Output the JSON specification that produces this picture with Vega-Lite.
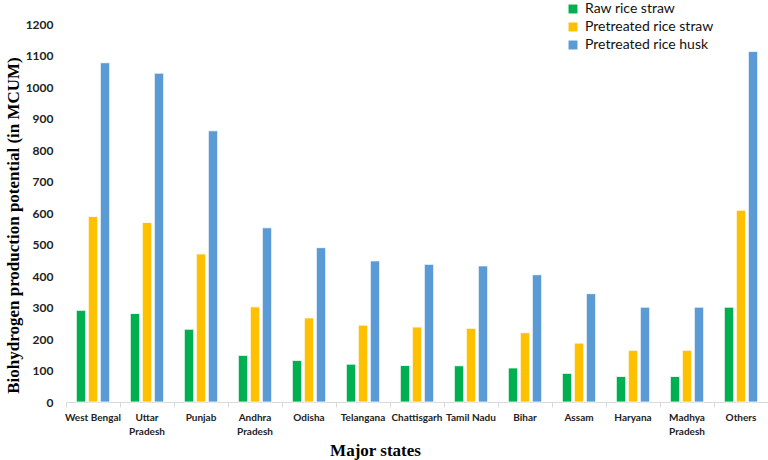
{
  "$schema": "https://vega.github.io/schema/vega-lite/v6.json",
  "width": 702,
  "height": 378,
  "autosize": "none",
  "padding": {"left": 66, "top": 24, "right": 0, "bottom": 58},
  "background": "white",
  "data": {
    "values": [
      {"state": "West Bengal", "type": "Raw rice straw", "value": 291},
      {"state": "West Bengal", "type": "Pretreated rice straw", "value": 589},
      {"state": "West Bengal", "type": "Pretreated rice husk", "value": 1077},
      {"state": "Uttar Pradesh", "type": "Raw rice straw", "value": 281},
      {"state": "Uttar Pradesh", "type": "Pretreated rice straw", "value": 570},
      {"state": "Uttar Pradesh", "type": "Pretreated rice husk", "value": 1044},
      {"state": "Punjab", "type": "Raw rice straw", "value": 231},
      {"state": "Punjab", "type": "Pretreated rice straw", "value": 470},
      {"state": "Punjab", "type": "Pretreated rice husk", "value": 861},
      {"state": "Andhra Pradesh", "type": "Raw rice straw", "value": 148},
      {"state": "Andhra Pradesh", "type": "Pretreated rice straw", "value": 302},
      {"state": "Andhra Pradesh", "type": "Pretreated rice husk", "value": 553},
      {"state": "Odisha", "type": "Raw rice straw", "value": 132},
      {"state": "Odisha", "type": "Pretreated rice straw", "value": 267},
      {"state": "Odisha", "type": "Pretreated rice husk", "value": 490},
      {"state": "Telangana", "type": "Raw rice straw", "value": 120},
      {"state": "Telangana", "type": "Pretreated rice straw", "value": 244},
      {"state": "Telangana", "type": "Pretreated rice husk", "value": 448},
      {"state": "Chattisgarh", "type": "Raw rice straw", "value": 116},
      {"state": "Chattisgarh", "type": "Pretreated rice straw", "value": 238},
      {"state": "Chattisgarh", "type": "Pretreated rice husk", "value": 437},
      {"state": "Tamil Nadu", "type": "Raw rice straw", "value": 115},
      {"state": "Tamil Nadu", "type": "Pretreated rice straw", "value": 234},
      {"state": "Tamil Nadu", "type": "Pretreated rice husk", "value": 432},
      {"state": "Bihar", "type": "Raw rice straw", "value": 108},
      {"state": "Bihar", "type": "Pretreated rice straw", "value": 220},
      {"state": "Bihar", "type": "Pretreated rice husk", "value": 404},
      {"state": "Assam", "type": "Raw rice straw", "value": 91},
      {"state": "Assam", "type": "Pretreated rice straw", "value": 187},
      {"state": "Assam", "type": "Pretreated rice husk", "value": 344},
      {"state": "Haryana", "type": "Raw rice straw", "value": 81},
      {"state": "Haryana", "type": "Pretreated rice straw", "value": 164},
      {"state": "Haryana", "type": "Pretreated rice husk", "value": 301},
      {"state": "Madhya Pradesh", "type": "Raw rice straw", "value": 81},
      {"state": "Madhya Pradesh", "type": "Pretreated rice straw", "value": 164},
      {"state": "Madhya Pradesh", "type": "Pretreated rice husk", "value": 301},
      {"state": "Others", "type": "Raw rice straw", "value": 301},
      {"state": "Others", "type": "Pretreated rice straw", "value": 609},
      {"state": "Others", "type": "Pretreated rice husk", "value": 1113}
    ]
  },
  "mark": {"type": "bar", "stroke": "white", "strokeWidth": 0.8},
  "encoding": {
    "x": {
      "field": "state",
      "type": "nominal",
      "sort": null,
      "scale": {"paddingInner": 0, "paddingOuter": 0},
      "axis": {
        "title": "Major states",
        "titleFont": "Liberation Serif",
        "titleFontSize": 17,
        "titleFontWeight": "bold",
        "titleColor": "black",
        "titleBaseline": "middle",
        "titleX": 309,
        "titleY": 48,
        "labelAngle": 0,
        "labelFont": "Lato",
        "labelFontSize": 10,
        "labelFontWeight": "bold",
        "labelColor": "#222",
        "labelPadding": 5,
        "labelLineHeight": 14,
        "labelBaseline": "top",
        "labelLimit": 0,
        "labelExpr": "indexof(datum.label, 'Pradesh') > 0 ? split(datum.label, ' ') : datum.label",
        "bandPosition": 0,
        "domainColor": "#d9d9d9",
        "tickColor": "#d9d9d9",
        "tickSize": 5,
        "grid": false
      }
    },
    "xOffset": {
      "field": "type",
      "type": "nominal",
      "sort": ["Raw rice straw", "Pretreated rice straw", "Pretreated rice husk"],
      "scale": {"paddingInner": 0.22, "paddingOuter": 0.86}
    },
    "y": {
      "field": "value",
      "type": "quantitative",
      "scale": {"domain": [0, 1200]},
      "axis": {
        "title": "Biohydrogen production potential (in MCUM)",
        "titleFont": "Liberation Serif",
        "titleFontSize": 17,
        "titleFontWeight": "bold",
        "titleColor": "black",
        "titleBaseline": "middle",
        "titleX": -53,
        "titleY": 201,
        "values": [0, 100, 200, 300, 400, 500, 600, 700, 800, 900, 1000, 1100, 1200],
        "format": "d",
        "labelFont": "Lato",
        "labelFontSize": 12,
        "labelFontWeight": "bold",
        "labelColor": "#222",
        "labelPadding": 13,
        "ticks": false,
        "domain": false,
        "grid": false
      }
    },
    "color": {
      "field": "type",
      "type": "nominal",
      "sort": ["Raw rice straw", "Pretreated rice straw", "Pretreated rice husk"],
      "scale": {
        "domain": ["Raw rice straw", "Pretreated rice straw", "Pretreated rice husk"],
        "range": ["#00B050", "#FFC000", "#5B9BD5"]
      },
      "legend": {
        "title": null,
        "orient": "none",
        "legendX": 500,
        "legendY": -22,
        "symbolType": "square",
        "symbolSize": 80,
        "symbolStrokeWidth": 0,
        "labelFont": "Lato",
        "labelFontSize": 14,
        "labelColor": "#111",
        "rowPadding": 4,
        "labelOffset": 5
      }
    }
  },
  "config": {"view": {"stroke": null}}
}
